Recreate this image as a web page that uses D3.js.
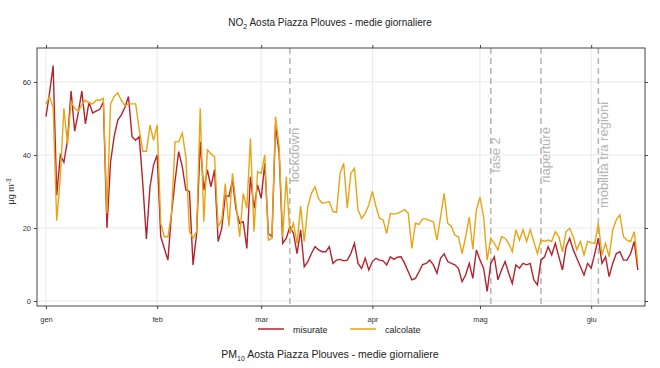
<!DOCTYPE html>
<html>
<head>
<meta charset="utf-8">
<script src="https://cdn.jsdelivr.net/npm/d3@7"></script>
<style>
 body { margin: 0; background: #fff; }
 text { font-family: Arial, "Liberation Sans", sans-serif; }
</style>
</head>
<body>
<svg id="chart" width="660" height="368"></svg>
<script>
 // medie giornaliere dal 1 gennaio 2020
 var startDate = new Date(2020, 0, 1);

 var misurate = [
   50.5, 57, 64.5, 29, 40, 38, 44, 57.5, 46.5, 51.5,
   57.5, 48.5, 54.5, 51.5, 52, 52.5, 54.5, 20, 38, 45,
   49.5, 51, 53, 56, 45, 44, 45, 32, 17, 31.3,
   37.3, 40, 17.6, 14.4, 11.2, 24, 33, 40.9, 36.8, 30.4,
   30, 9.9, 18.5, 43.6, 30.4, 35.9, 31.3, 36, 16.3, 19.9,
   29, 28.6, 33, 25, 21.3, 21.7, 14.4, 34, 25.4, 31.8,
   28.1, 37.7, 18.5, 17.6, 48.2, 40.5, 15.8, 17.2, 20.4, 18.5,
   13, 19.5, 9.4, 10.8, 13, 14.9, 14, 13.5, 13.5, 14.9,
   10.3, 11.2, 11.4, 11, 11.2, 13, 15.8, 10.3, 8.9, 11.7,
   8.5, 10.8, 11.7, 11.2, 11, 9.9, 12.1, 11.4, 12, 12.1,
   10.3, 8, 5.8, 6.2, 8, 10, 10.3, 11.2, 9.9, 7.6,
   11.7, 12.9, 10.8, 10.3, 9.9, 8.9, 5.3, 7.1, 10.3, 6.2,
   14, 11.2, 9, 2.6, 10.3, 12.1, 5.8, 8.5, 10.8, 7.6,
   4.8, 9.9, 9, 10.3, 9.9,
   10.3, 5.8, 4.4, 11.2, 12.1, 14.9, 12.6, 15.8, 12.1, 8.5,
   14.9, 17.2, 14, 11.7, 9.4, 7.1, 10.3, 9, 13, 17.2,
   10.3, 12.1, 6.7, 10.3, 13, 13.5, 11.2, 11.2, 13, 16.3, 8.5
 ];

 var calcolate = [
   54, 56, 53, 22, 34, 52.8, 43, 54.6, 52.8, 52,
   53.7, 55, 54.3, 54, 55, 55, 55.5, 24, 54, 56,
   57, 55, 53.5, 54, 54, 54, 47, 41, 41, 48.2,
   44, 48.2, 21.3, 17.6, 17.6, 24, 43.6, 43.6, 46, 39.5,
   19, 17.2, 19, 52.8, 21.7, 41.4, 40.3, 39.5, 20.4, 22.2,
   32.2, 20.4, 35, 26.5, 17.6, 29.5, 25.4, 44.6, 19, 35.4,
   35, 40, 16.7, 17.2, 50.5, 42.3, 17.5, 34, 18.5, 21.3,
   15.8, 26, 16.3, 25.8, 29.5, 31.3, 28, 26.8, 27, 27.2,
   24.5, 24.3, 35, 37.7, 25.4, 35, 36.3, 25, 22.6, 24,
   26.3, 30, 25.8, 22.6, 22.2, 18.5, 24, 23.8, 24, 24.5,
   25, 24, 14.4, 21.3, 21, 22.5, 22.5, 22, 21.7, 16.7,
   23, 29.5, 21.3, 20.4, 18, 17.6, 13, 17.6, 23, 14.2,
   25, 28.4, 23.1, 11.2, 17.2, 15.8, 14, 17.6, 17.2, 15.8,
   13.5, 19.5, 16.7, 19.5, 16.3,
   19.5, 16.3, 13, 16.7, 16.3, 16.7, 16.3, 19, 17.6, 13.5,
   19, 19.9, 17.6, 14, 16.3, 12.6, 16.3, 16, 15.8, 21.3,
   12.6, 15.8, 12.1, 19.5, 22.2, 23.6, 17.6, 16.7, 16.3, 19, 10.3
 ];

 var eventDates = [new Date(2020, 2, 9), new Date(2020, 4, 4), new Date(2020, 4, 18), new Date(2020, 5, 3)];
 var eventLabels = ["lockdown", "fase 2", "riaperture", "mobilità tra regioni"];
 var mesi = ["gen", "feb", "mar", "apr", "mag", "giu"];
 var yTicks = [0, 20, 40, 60];
 var labelY = 40;

 var red = "#b5222d", orange = "#e9a415";
 var pLeft = 37, pRight = 645, pTop = 48, pBottom = 306;

 var svg = d3.select("#chart");

 var x = d3.scaleTime()
     .domain([d3.timeHour.offset(startDate, -60), d3.timeHour.offset(startDate, 167 * 24)])
     .range([pLeft, pRight]);
 var y = d3.scaleLinear()
     .domain([-1.37, 69.3])
     .range([pBottom, pTop]);

 var monthTicks = d3.timeMonth.range(new Date(2020, 0, 1), new Date(2020, 6, 1));

 // griglia
 var grid = svg.append("g").attr("stroke", "#e8e8e8").attr("stroke-width", 1);
 grid.selectAll(".gx").data(monthTicks).enter().append("line")
     .attr("x1", d => x(d)).attr("x2", d => x(d))
     .attr("y1", pTop).attr("y2", pBottom);
 grid.selectAll(".gy").data(yTicks).enter().append("line")
     .attr("x1", pLeft).attr("x2", pRight)
     .attr("y1", d => y(d)).attr("y2", d => y(d));

 // eventi
 var ev = svg.append("g");
 ev.selectAll("line").data(eventDates).enter().append("line")
     .attr("x1", d => x(d)).attr("x2", d => x(d))
     .attr("y1", pTop).attr("y2", pBottom)
     .attr("stroke", "#b4b4b4").attr("stroke-width", 1.5)
     .attr("stroke-dasharray", "6,4");
 ev.selectAll("text").data(eventDates).enter().append("text")
     .attr("transform", d => "translate(" + (x(d) + 9.5) + "," + y(labelY) + ") rotate(-90)")
     .attr("text-anchor", "middle")
     .attr("font-size", "13px")
     .attr("fill", "#b4b4b4")
     .text((d, i) => eventLabels[i]);

 // serie
 var line = d3.line()
     .x((d, i) => x(d3.timeDay.offset(startDate, i)))
     .y(d => y(d))
     .curve(d3.curveLinear);
 svg.append("path").datum(misurate).attr("d", line)
     .attr("fill", "none").attr("stroke", red).attr("stroke-width", 1.4);
 svg.append("path").datum(calcolate).attr("d", line)
     .attr("fill", "none").attr("stroke", orange).attr("stroke-width", 1.4);

 // assi
 function styleAxis(g) {
   g.select(".domain").remove();
   g.selectAll("line").attr("stroke", "#444");
   g.selectAll("text").attr("font-size", "7.5px").attr("fill", "#333")
     .attr("font-family", "Arial, 'Liberation Sans', sans-serif");
 }
 svg.append("g").attr("transform", "translate(" + pLeft + ",0)")
     .call(d3.axisLeft(y).tickValues(yTicks).tickSize(3).tickPadding(3))
     .call(styleAxis);
 svg.append("g").attr("transform", "translate(" + pRight + ",0)")
     .call(d3.axisRight(y).tickValues(yTicks).tickSize(3).tickFormat(""))
     .call(styleAxis);
 svg.append("g").attr("transform", "translate(0," + pBottom + ")")
     .call(d3.axisBottom(x).tickValues(monthTicks).tickSize(3).tickPadding(8)
           .tickFormat(d => mesi[d.getMonth()]))
     .call(styleAxis);
 svg.append("g").attr("transform", "translate(0," + pTop + ")")
     .call(d3.axisTop(x).tickValues(monthTicks).tickSize(3).tickFormat(""))
     .call(styleAxis);

 svg.append("rect")
     .attr("x", pLeft).attr("y", pTop)
     .attr("width", pRight - pLeft).attr("height", pBottom - pTop)
     .attr("fill", "none").attr("stroke", "#444").attr("stroke-width", 1);

 // titolo
 var t = svg.append("text").attr("x", 330).attr("y", 26)
     .attr("text-anchor", "middle").attr("font-size", "10px").attr("fill", "#222");
 t.append("tspan").text("NO");
 t.append("tspan").attr("dy", 3).attr("font-size", "7px").text("2");
 t.append("tspan").attr("dy", -3).text(" Aosta Piazza Plouves - medie giornaliere");

 // etichetta asse y
 var yl = svg.append("text")
     .attr("transform", "translate(14," + y(30) + ") rotate(-90)")
     .attr("text-anchor", "middle").attr("font-size", "9px").attr("fill", "#333");
 yl.append("tspan").text("μg m");
 yl.append("tspan").attr("dy", -3).attr("font-size", "6.5px").text("-3");

 // legenda
 var legSeries = [{nome: "misurate", col: red, x0: 258}, {nome: "calcolate", col: orange, x0: 350}];
 var leg = svg.selectAll(".leg").data(legSeries).enter().append("g");
 leg.append("line")
     .attr("x1", d => d.x0).attr("x2", d => d.x0 + 26)
     .attr("y1", 329).attr("y2", 329)
     .attr("stroke", d => d.col).attr("stroke-width", 1.5);
 leg.append("text")
     .attr("x", d => d.x0 + 35).attr("y", 332.5)
     .attr("font-size", "9px").attr("fill", "#222")
     .text(d => d.nome);

 // sottotitolo
 var s = svg.append("text").attr("x", 330).attr("y", 358)
     .attr("text-anchor", "middle").attr("font-size", "10.5px").attr("fill", "#222");
 s.append("tspan").text("PM");
 s.append("tspan").attr("dy", 3).attr("font-size", "7px").text("10");
 s.append("tspan").attr("dy", -3).text(" Aosta Piazza Plouves - medie giornaliere");
</script>
</body>
</html>
